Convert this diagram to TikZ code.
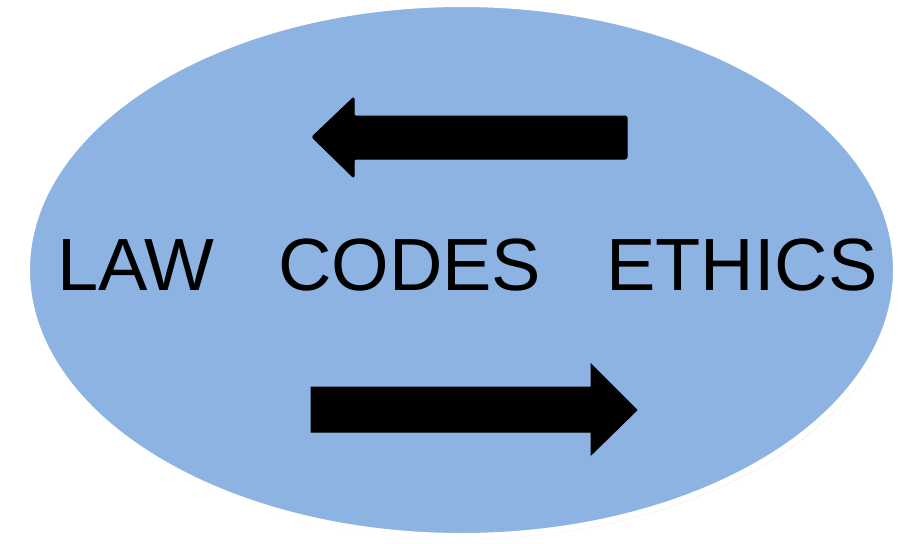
\documentclass[tikz,border=0pt]{standalone}
\usepackage{fontspec}
\setmainfont{Liberation Sans}
\usetikzlibrary{shadows}

\definecolor{ovalblue}{RGB}{141,179,226}

\begin{document}
\begin{tikzpicture}[x=1pt, y=-1pt]
        \tikzset{
          word/.style={draw=none, fill=none, inner sep=0pt, anchor=base west, font=\fontsize{74}{80}\selectfont},
          bigarrow/.style={fill=black, draw=black, line width=1pt, line join=round}
        }

        % page frame
        \useasboundingbox (0,0) rectangle (898,544);

        % — oval —
        \draw[white, line width=6pt, fill=ovalblue,
              drop shadow={opacity=0.15, shadow xshift=2pt, shadow yshift=-3pt}]
          (461.5,270) coordinate (mid) ellipse (434.5 and 266);

        % — words —
        \node[word] (law)    at (57,290)  {LAW};
        \node[word] (codes)  at (278,290) {CODES};
        \node[word] (ethics) at (606,290) {ETHICS};

        % — arrow pointing left —
        \filldraw[bigarrow, rounded corners=2pt]
          (627,116) -- (354,116) -- (354,97) -- (312,137) -- (354,178)
          -- (354,159) -- (627,159) -- cycle;

        % — arrow pointing right —
        \filldraw[bigarrow, line join=miter]
          (311,387) -- (591,387) -- (591,364) -- (637,410) -- (591,455)
          -- (591,432) -- (311,432) -- cycle;

      \end{tikzpicture}
\end{document}
